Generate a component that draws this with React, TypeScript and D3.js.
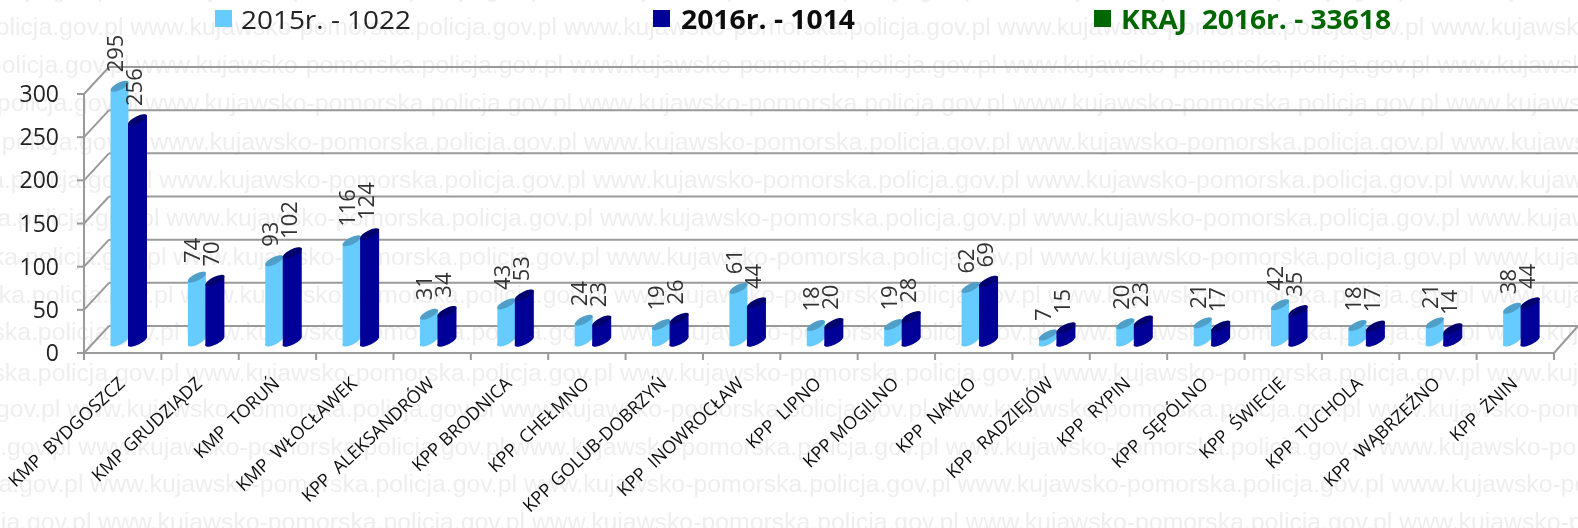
import React from "react";
import * as d3 from "d3";

const categories = ["KMP  BYDGOSZCZ","KMP GRUDZIĄDZ","KMP  TORUŃ","KMP  WŁOCŁAWEK","KPP  ALEKSANDRÓW","KPP BRODNICA","KPP  CHEŁMNO","KPP GOLUB-DOBRZYŃ","KPP  INOWROCŁAW","KPP  LIPNO","KPP MOGILNO","KPP  NAKŁO","KPP  RADZIEJÓW","KPP  RYPIN","KPP  SĘPÓLNO","KPP  ŚWIECIE","KPP  TUCHOLA","KPP  WĄBRZEŹNO","KPP  ŻNIN"];
const values2015 = [295,74,93,116,31,43,24,19,61,18,19,62,7,20,21,42,18,21,38];
const values2016 = [256,70,102,124,34,53,23,26,44,20,28,69,15,23,17,35,17,14,44];
const yTicks = [0,50,100,150,200,250,300];
const watermarkRows = [
  [-11,133],[27,140],[65,146],[103,155],[142,160],[180,169],[218,176],[257,183],[295,190],[332,196],[373,196],
  [409,77],[447,88],[484,100],[522,108],
];
const watermark = "www.kujawsko-pomorska.policja.gov.pl ";
const legend = [
  {x:215,tx:241,sw:"#66CCFF",c:"#222",w:400,t:"2015r. - 1022",len:170},
  {x:653,tx:681,sw:"#000099",c:"#111",w:700,t:"2016r. - 1014",len:174},
  {x:1094,tx:1121,sw:"#006600",c:"#006600",w:700,t:"KRAJ  2016r. - 33618",len:270},
];

const W = 1578, H = 528;
const F = "'Open Sans','Noto Sans',sans-serif";
const depthX = 25, depthY = -27;
const x = d3.scaleBand<number>().domain(d3.range(categories.length)).range([84,1554]);
const y = d3.scaleLinear().domain([0,300]).range([353,94]);
const barY = d3.scaleLinear().domain([0,300]).range([341,82]);
const gridColor = "#9a9a9a";

function Cyl({x0,x1,side,cap,v}:{x0:number;x1:number;side:string;cap:string;v:number}) {
  const rx = (x1-x0)/2, cx=(x0+x1)/2, tilt=(x1-x0)*0.25, base=barY(0), t=barY(v);
  const ry = 3.6;
  const a = Math.atan2(-2*tilt,x1-x0)*180/Math.PI;
  const r = Math.hypot(rx,tilt);
  const p = d3.path();
  p.moveTo(x0,t+tilt);
  p.lineTo(x0,base+tilt);
  p.lineTo(x1,base-tilt);
  p.lineTo(x1,t-tilt);
  p.closePath();
  return <g>
    <ellipse cx={cx} cy={base} rx={r} ry={ry} fill={side} transform={`rotate(${a} ${cx} ${base})`}/>
    <path d={p.toString()} fill={side}/>
    <ellipse cx={cx} cy={t} rx={r} ry={ry} fill={cap} transform={`rotate(${a} ${cx} ${t})`}/>
  </g>;
}

export default function App() {
  const count = categories.length;
  return (
    <svg width={W} height={H} viewBox={`0 0 ${W} ${H}`} style={{position:"absolute",left:0,top:0,background:"#fff"}}>
      <defs><filter id="soft" x="0" y="0" width="100%" height="100%"><feGaussianBlur stdDeviation="0.45"/></filter></defs>
      <g filter="url(#soft)">
      <g fill="#eeeeee" fontFamily="'Liberation Sans',Arial,sans-serif" fontSize={24.8}>
        {watermarkRows.map(([ry,rx],i)=>(
          <text key={i} x={rx-436.9*3} y={ry+8} xmlSpace="preserve">{watermark.repeat(7)}</text>
        ))}
      </g>
      <g stroke={gridColor} strokeWidth={2} fill="none">
        {yTicks.map(t=><line key={t} x1={84+depthX} x2={W} y1={y(t)+depthY} y2={y(t)+depthY}/>)}
        {yTicks.map(t=><line key={t} x1={84} x2={84+depthX} y1={y(t)} y2={y(t)+depthY}/>)}
        {yTicks.map(t=><line key={t} x1={77} x2={84} y1={y(t)} y2={y(t)}/>)}
        <line x1={84} x2={84} y1={y(300)} y2={y(0)}/>
        <line x1={77} x2={1554} y1={y(0)} y2={y(0)}/>
        <line x1={1554} x2={W} y1={y(0)} y2={y(0)+depthY}/>
        {d3.range(count+1).map(i=>{const px=84+x.step()*i;return <line key={i} x1={px} x2={px} y1={y(0)} y2={y(0)+7}/>;})}
      </g>
      {categories.map((c,i)=>{
        const s = x(i)!;
        return <g key={c}>
          <Cyl x0={s+26.5} x1={s+44.5} v={values2015[i]} side="#66CCFF" cap="#4f9fc9"/>
          <Cyl x0={s+44} x1={s+63} v={values2016[i]} side="#000099" cap="#00006e"/>
        </g>;
      })}
      <g fill="#333" fontFamily={F} fontSize={22}>
        {categories.map((c,i)=>{
          const s = x(i)!;
          const l = (v:number,cx:number)=>{
            const b = barY(v)-14;
            return <text x={cx} y={b} transform={`rotate(-90 ${cx} ${b})`} dy="0.36em">{v}</text>;
          };
          return <g key={c}>{l(values2015[i],s+31)}{l(values2016[i],s+50)}</g>;
        })}
      </g>
      <g fill="#222" fontFamily={F} fontSize={23} textAnchor="end">
        {yTicks.map(t=><text key={t} x={59} y={y(t)} dy="0.35em">{t}</text>)}
      </g>
      <g fill="#111" fontFamily={F} fontSize={18} textAnchor="end">
        {categories.map((c,i)=>{
          const px = x(i)!+42, py = 385;
          return <text key={c} x={px} y={py} transform={`rotate(-43 ${px} ${py})`} xmlSpace="preserve">{c}</text>;
        })}
      </g>
      <g fontFamily={F} fontSize={26}>
        {legend.map(l=><g key={l.t}>
          <rect x={l.x} y={10} width={17} height={17} fill={l.sw}/>
          <text x={l.tx} y={28.5} fill={l.c} fontWeight={l.w} textLength={l.len} lengthAdjust="spacingAndGlyphs" xmlSpace="preserve">{l.t}</text>
        </g>)}
      </g>
      </g>
    </svg>
  );
}
